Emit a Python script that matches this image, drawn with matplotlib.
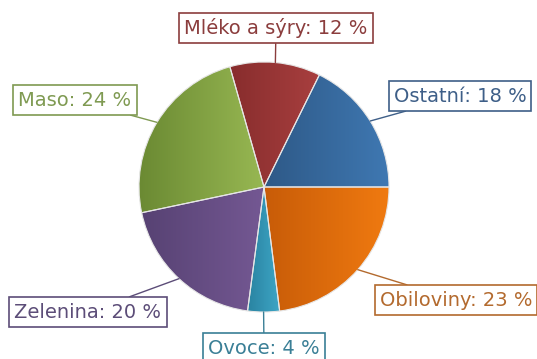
import numpy as np
import matplotlib.pyplot as plt
from matplotlib.colors import LinearSegmentedColormap

# Data
categories = ['Ostatní', 'Mléko a sýry', 'Maso', 'Zelenina', 'Ovoce', 'Obiloviny']
values = [17.7, 11.7, 23.9, 19.6, 4.1, 23.0]

# Styles (dark/light end of each slice gradient, label colour)
grad_dark = ['#2e5987', '#882d2d', '#6b8a33', '#574273', '#2a84a2', '#c85c08']
grad_light = ['#3f78b2', '#a83f3f', '#97b752', '#745893', '#3ea6c6', '#f07a10']
label_col = ['#3e5f88', '#8b3d3d', '#7f9a52', '#5c4d78', '#3a7f96', '#b36a2e']
# label centres in pixel coordinates (x, y from top)
label_pos = [(460, 96), (276, 28), (75, 100), (88, 312), (264, 348), (456, 300)]

W, H = 537, 359
cx, cy, r = 264, 187, 125

fig = plt.figure(figsize=(W / 100, H / 100), dpi=100)
ax = fig.add_axes([0, 0, 1, 1])
ax.set_xlim(0, W)
ax.set_ylim(0, H)
ax.set_aspect('equal')
ax.axis('off')

wedges, _ = ax.pie(values, startangle=0, counterclock=True, center=(cx, H - cy),
                   radius=r, colors=grad_light,
                   wedgeprops=dict(edgecolor='#e6e6e6', linewidth=0.8))

total = sum(values)
start = 0
for i, w in enumerate(wedges):
    # horizontal gradient clipped to the wedge
    bb = w.get_path().get_extents(w.get_transform())
    inv = ax.transData.inverted()
    (x0, y0), (x1, y1) = inv.transform([[bb.x0, bb.y0], [bb.x1, bb.y1]])
    cmap = LinearSegmentedColormap.from_list('g%d' % i, [grad_dark[i], grad_light[i]])
    img = ax.imshow(np.linspace(0, 1, 64).reshape(1, -1), cmap=cmap, aspect='auto',
                    extent=(x0, x1, y0, y1), zorder=w.get_zorder() + 0.1)
    img.set_clip_path(w)
    w.set_facecolor('none')
    w.set_zorder(w.get_zorder() + 0.2)

    ang = np.deg2rad(start + 360 * values[i] / total / 2)
    start += 360 * values[i] / total
    px, py = cx + r * np.cos(ang), H - cy + r * np.sin(ang)
    lx, ly = label_pos[i]
    txt = '%s: %d %%' % (categories[i], round(values[i]))
    ax.annotate(txt, xy=(px, py), xytext=(lx, H - ly), ha='center', va='center',
                fontsize=14, color=label_col[i], zorder=5,
                bbox=dict(boxstyle='square,pad=0.26', fc='white', ec=label_col[i], lw=1.2),
                arrowprops=dict(arrowstyle='-', color=label_col[i], lw=1,
                                shrinkA=0, shrinkB=0))

ax.set_xlim(0, W)
ax.set_ylim(0, H)
fig.savefig('out.png', dpi=100)
